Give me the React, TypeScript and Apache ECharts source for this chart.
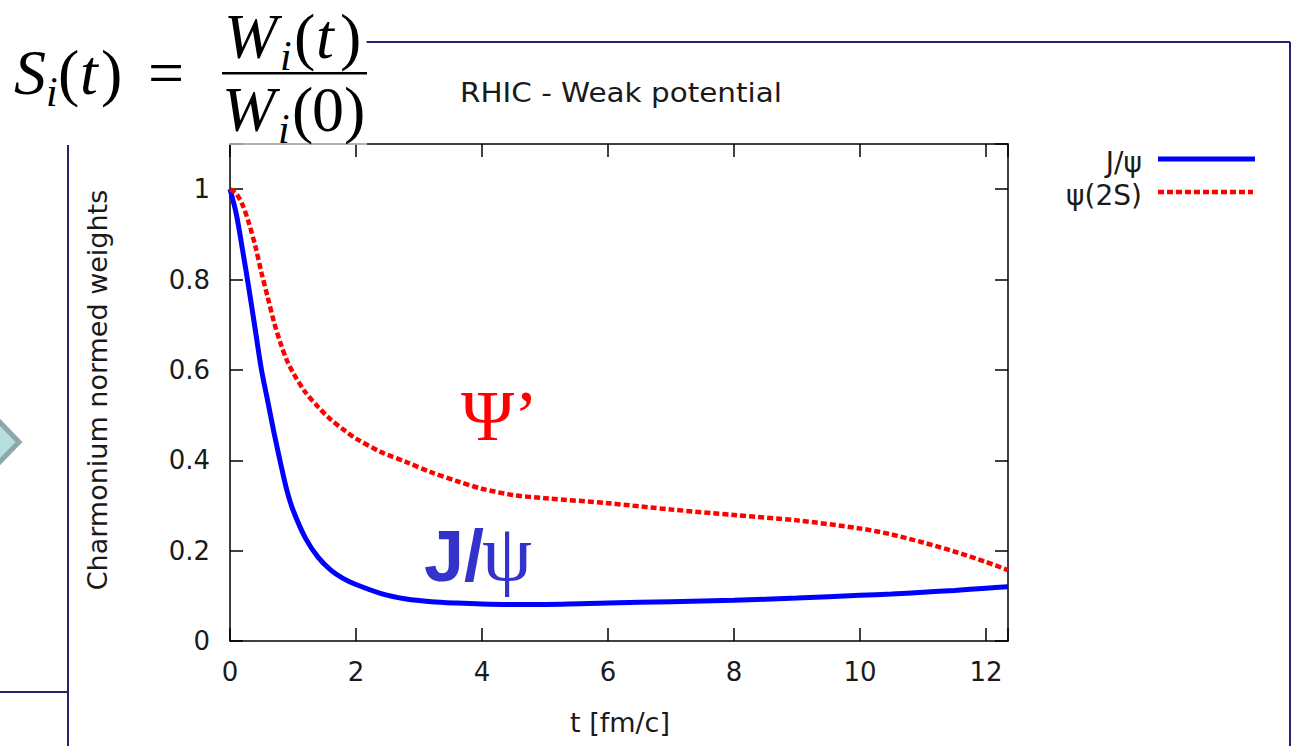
import React, { useEffect, useRef } from "react";
import * as echarts from "echarts";

// time axis t [fm/c]
const T = [0, 0.1, 0.2, 0.3, 0.4, 0.5, 0.6, 0.7, 0.8, 0.9, 1.0, 1.2, 1.4, 1.6, 1.8, 2.0, 2.4, 2.8, 3.2, 3.6, 4.0, 4.5, 5, 6, 7, 8, 9, 10, 10.5, 11, 11.5, 12, 12.35];
// J/psi normed weight
const JPSI = [1.0, 0.945, 0.865, 0.78, 0.69, 0.6, 0.53, 0.46, 0.395, 0.335, 0.29, 0.227, 0.185, 0.157, 0.138, 0.125, 0.105, 0.093, 0.087, 0.084, 0.082, 0.081, 0.081, 0.084, 0.087, 0.09, 0.095, 0.101, 0.104, 0.108, 0.112, 0.117, 0.12];
// psi(2S) normed weight
const PSI2S = [1.0, 0.99, 0.965, 0.925, 0.875, 0.815, 0.76, 0.705, 0.66, 0.622, 0.594, 0.55, 0.518, 0.49, 0.468, 0.448, 0.418, 0.396, 0.373, 0.354, 0.337, 0.323, 0.316, 0.305, 0.291, 0.279, 0.267, 0.249, 0.236, 0.218, 0.198, 0.175, 0.157];

const X_MIN = 0;
const X_MAX = 12.35;
const X_STEP = 2;
const Y_MIN = 0;
const Y_MAX = 1.1;
const Y_STEP = 0.2;

const SERIES_NAMES = ["J/ψ", "ψ(2S)"];
const TITLE = "RHIC - Weak potential";
const X_NAME = "t [fm/c]";
const Y_NAME = "Charmonium normed weights";

const SANS = "DejaVu Sans";
const SERIF = "Liberation Serif";
const TXT = "#1a1a1a";
const NAVY = "#23236e";

function mathText(text: string, x: number, baseline: number, size: number, italic: boolean) {
  return {
    type: "text",
    x,
    y: baseline - size * 0.34,
    z: 110,
    style: {
      text,
      fill: "#000",
      fontFamily: SERIF,
      fontStyle: italic ? "italic" : "normal",
      fontSize: size,
      align: "left",
      verticalAlign: "middle",
    },
  };
}

export default function App() {
  const ref = useRef<HTMLDivElement>(null);
  useEffect(() => {
    const chart = echarts.init(ref.current!, null, { renderer: "svg" });
    const jpsiData = T.map((t, i) => [t, JPSI[i]]);
    const psiData = T.map((t, i) => [t, PSI2S[i]]);

    const axisLine = { show: true, onZero: false, lineStyle: { color: "#000", width: 1.5 } };
    const axisTick = { show: true, inside: true, length: 13, lineStyle: { color: "#000", width: 1.5 } };

    const xFmt = (v: number) => {
      const r = Math.round(v);
      return Math.abs(v - r) < 1e-6 && r % X_STEP === 0 ? String(r) : "";
    };
    const yFmt = (v: number) => {
      const r = Math.round(v / Y_STEP);
      if (Math.abs(v / Y_STEP - r) > 1e-6) return "";
      return String(Number((r * Y_STEP).toFixed(1)));
    };

    const F = 64;
    const FS = 42;
    const graphic: any[] = [
      // slide frame
      { type: "line", z: 90, shape: { x1: 366, y1: 42, x2: 1290, y2: 42 }, style: { stroke: NAVY, lineWidth: 2 } },
      { type: "line", z: 90, shape: { x1: 1290, y1: 42, x2: 1290, y2: 746 }, style: { stroke: NAVY, lineWidth: 2 } },
      { type: "line", z: 90, shape: { x1: 68, y1: 145, x2: 68, y2: 746 }, style: { stroke: NAVY, lineWidth: 2 } },
      { type: "line", z: 90, shape: { x1: 0, y1: 692, x2: 68, y2: 692 }, style: { stroke: NAVY, lineWidth: 2 } },
      // arrow at left
      {
        type: "polygon",
        z: 90,
        shape: { points: [[-12, 410], [19, 442], [-12, 474]] },
        style: { fill: "#b6dfe0", stroke: "#8ea7a8", lineWidth: 5 },
      },
      // formula background (covers part of plot top border)
      { type: "rect", z: 100, shape: { x: 0, y: 0, width: 367, height: 145 }, style: { fill: "rgba(255,255,255,0.6)" } },
      // formula S_i(t) = W_i(t) / W_i(0)
      mathText("S", 14, 94, F, true),
      mathText("i", 46, 106, FS, true),
      mathText("(", 58, 94, F, false),
      mathText("t", 80, 94, F, true),
      mathText(")", 101, 94, F, false),
      mathText("=", 148, 94, F, false),
      mathText("W", 224, 58, F, true),
      mathText("i", 280, 70, FS, true),
      mathText("(", 294, 58, F, false),
      mathText("t", 316, 58, F, true),
      mathText(")", 340, 58, F, false),
      { type: "rect", z: 110, shape: { x: 222, y: 72, width: 145, height: 2.5 }, style: { fill: "#000" } },
      mathText("W", 222, 131, F, true),
      mathText("i", 278, 143, FS, true),
      mathText("(", 292, 131, F, false),
      mathText("0", 312, 131, F, false),
      mathText(")", 344, 131, F, false),
      // title
      {
        type: "text", x: 460, y: 93, z: 50, scaleX: 1.09,
        style: { text: TITLE, fill: TXT, fontFamily: SANS, fontSize: 27, align: "left", verticalAlign: "middle" },
      },
      // axis names
      {
        type: "text", x: 620, y: 722, z: 50,
        style: { text: X_NAME, fill: TXT, fontFamily: SANS, fontSize: 27, align: "center", verticalAlign: "middle" },
      },
      {
        type: "text", x: 97, y: 390, z: 50, rotation: Math.PI / 2,
        style: { text: Y_NAME, fill: TXT, fontFamily: SANS, fontSize: 27, align: "center", verticalAlign: "middle" },
      },
      // legend
      {
        type: "text", x: 1142, y: 162, z: 50,
        style: { text: SERIES_NAMES[0], fill: TXT, fontFamily: SANS, fontSize: 28, align: "right", verticalAlign: "middle" },
      },
      { type: "line", z: 50, shape: { x1: 1158, y1: 159, x2: 1255, y2: 159 }, style: { stroke: "#0000ff", lineWidth: 5 } },
      {
        type: "text", x: 1142, y: 195, z: 50,
        style: { text: SERIES_NAMES[1], fill: TXT, fontFamily: SANS, fontSize: 28, align: "right", verticalAlign: "middle" },
      },
      { type: "line", z: 50, shape: { x1: 1158, y1: 192, x2: 1253, y2: 192 }, style: { stroke: "#ff0000", lineWidth: 4.5, lineDash: [6, 3] } },
      // curve annotations
      {
        type: "text", x: 461, y: 416, z: 60,
        style: { text: "Ψ’", fill: "#ff0000", fontFamily: SERIF, fontSize: 72, align: "left", verticalAlign: "middle" },
      },
      {
        type: "text", x: 424, y: 556, z: 60,
        style: { text: "J/", fill: "#3333cc", fontFamily: "Liberation Sans", fontWeight: "bold", fontSize: 72, align: "left", verticalAlign: "middle" },
      },
      {
        type: "text", x: 482, y: 553, z: 60,
        style: { text: "ψ", fill: "#3333cc", fontFamily: SERIF, fontSize: 80, align: "left", verticalAlign: "middle" },
      },
    ];

    const option: any = {
      animation: false,
      backgroundColor: "#ffffff",
      grid: { left: 230, top: 144, width: 778, height: 497, containLabel: false },
      xAxis: [
        {
          type: "value", position: "bottom", min: X_MIN, max: X_MAX, interval: X_STEP,
          axisLine, axisTick, splitLine: { show: false },
          axisLabel: { show: true, formatter: xFmt, color: TXT, fontFamily: SANS, fontSize: 26, margin: 18 },
        },
        {
          type: "value", position: "top", min: X_MIN, max: X_MAX, interval: X_STEP,
          axisLine, axisTick, splitLine: { show: false }, axisLabel: { show: false },
        },
      ],
      yAxis: [
        {
          type: "value", position: "left", min: Y_MIN, max: Y_MAX, interval: Y_STEP,
          axisLine, axisTick, splitLine: { show: false },
          axisLabel: { show: true, formatter: yFmt, color: TXT, fontFamily: SANS, fontSize: 26, margin: 20 },
        },
        {
          type: "value", position: "right", min: Y_MIN, max: Y_MAX, interval: Y_STEP,
          axisLine, axisTick, splitLine: { show: false }, axisLabel: { show: false },
        },
      ],
      series: [
        {
          name: SERIES_NAMES[0], type: "line", data: jpsiData, showSymbol: false, smooth: 0.3,
          lineStyle: { color: "#0000ff", width: 5 }, z: 5,
        },
        {
          name: SERIES_NAMES[1], type: "line", data: psiData, showSymbol: false, smooth: 0.3,
          lineStyle: { color: "#ff0000", width: 4.5, type: [6, 3] }, z: 6,
        },
      ],
      graphic,
    };
    chart.setOption(option);
    return () => chart.dispose();
  }, []);
  return (
    <div
      ref={ref}
      style={{ position: "fixed", left: 0, top: 0, width: 1295, height: 746, background: "#fff" }}
    />
  );
}
